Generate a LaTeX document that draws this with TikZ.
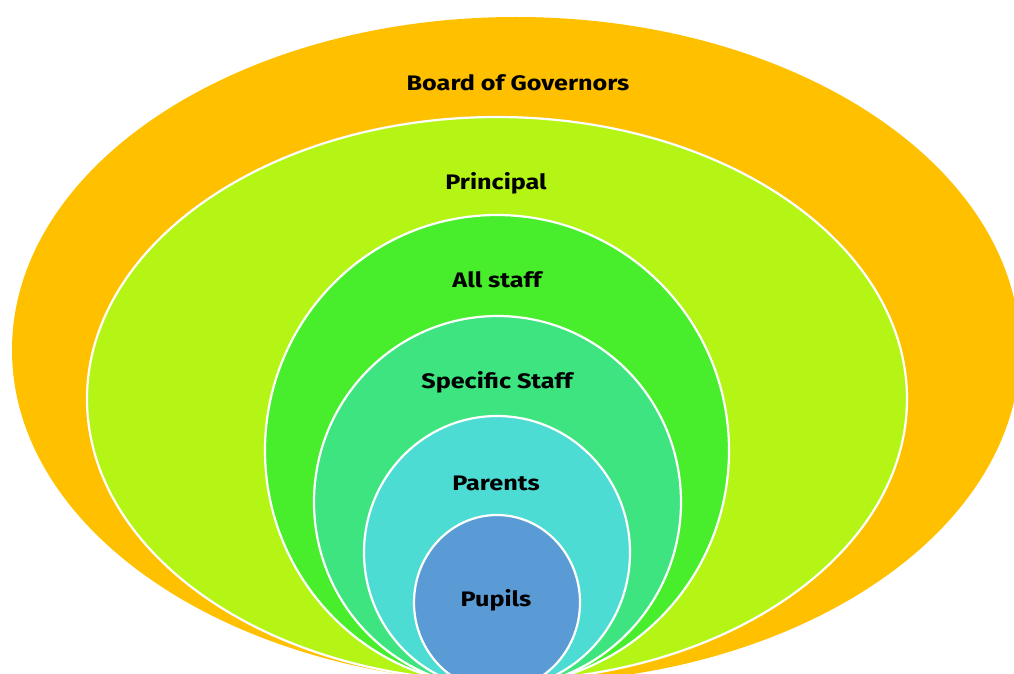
\documentclass[tikz,border=0pt]{standalone}
\usepackage{fontspec}
\setmainfont{Fira Sans}
\definecolor{cgov}{HTML}{FFC000}
\definecolor{cprin}{HTML}{B4F516}
\definecolor{cstaff}{HTML}{48EE2B}
\definecolor{cspec}{HTML}{3DE47F}
\definecolor{cpar}{HTML}{4DDCD3}
\definecolor{cpup}{HTML}{5B9BD5}
\newcommand{\widetxt}[1]{\scalebox{1.2}[1]{#1}}
\begin{document}
\begin{tikzpicture}[x=1pt,y=-1pt,
  ring/.style={draw=white,line width=2.2pt},
  lbl/.style={font=\bfseries\fontsize{21}{24}\selectfont,text=black,inner sep=0pt,anchor=base}]
\useasboundingbox (0,0) rectangle (1014,674);
\begin{scope}
\clip (0,0) rectangle (1014,674);
\fill[cgov] (516,350) ellipse [x radius=504pt, y radius=333pt];
\filldraw[ring,fill=cprin] (497,399) ellipse [x radius=410pt, y radius=282pt];
\filldraw[ring,fill=cstaff] (497,450.5) ellipse [x radius=232pt, y radius=235.5pt];
\filldraw[ring,fill=cspec] (497.5,502) ellipse [x radius=183.5pt, y radius=186pt];
\filldraw[ring,fill=cpar] (497,552.5) ellipse [x radius=133pt, y radius=136.5pt];
\filldraw[ring,fill=cpup] (497,602.5) ellipse [x radius=83pt, y radius=87.5pt];
\end{scope}
\node[lbl] (gov) at (518,91) {\widetxt{Board of Governors}};
\node[lbl] (prin) at (496,189) {\widetxt{Principal}};
\node[lbl] (staff) at (497,287) {\widetxt{All staff}};
\node[lbl] (spec) at (497,388) {\widetxt{Specific Staff}};
\node[lbl] (par) at (496,490) {\widetxt{Parents}};
\node[lbl] (pup) at (496,606) {\widetxt{Pupils}};
\end{tikzpicture}
\end{document}
